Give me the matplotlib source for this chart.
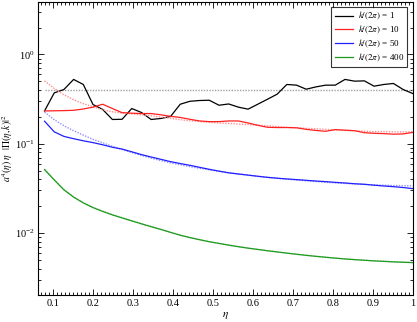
"""
a^4(eta) eta |Pi(eta,k)|^2 versus eta for four wavenumbers, with fits (dotted).
Writes out.png (417x322).
"""

import matplotlib
matplotlib.use("Agg")
import matplotlib.pyplot as plt
import numpy as np
from matplotlib.ticker import MultipleLocator, LogLocator, NullFormatter

plt.rcParams["font.family"] = ["Liberation Serif", "DejaVu Serif"]
plt.rcParams["mathtext.fontset"] = "stix"

# eta grid (39 samples)
eta = np.linspace(0.078, 1.0, 39)

k1 = [0.233, 0.371, 0.405, 0.525, 0.461, 0.275, 0.242, 0.187, 0.188, 0.248,
      0.224, 0.187, 0.192, 0.202, 0.277, 0.299, 0.305, 0.307, 0.270, 0.279,
      0.257, 0.244, 0.277, 0.315, 0.359, 0.461, 0.453, 0.408, 0.433, 0.453,
      0.453, 0.525, 0.502, 0.506, 0.441, 0.461, 0.473, 0.405, 0.365]
k1_fit = [0.40] * 39

k10 = [0.233, 0.234, 0.235, 0.237, 0.245, 0.257, 0.277, 0.248, 0.223, 0.220,
       0.218, 0.218, 0.211, 0.203, 0.197, 0.188, 0.180, 0.177, 0.177, 0.180,
       0.180, 0.171, 0.161, 0.153, 0.152, 0.152, 0.151, 0.145, 0.141, 0.138,
       0.144, 0.142, 0.140, 0.133, 0.131, 0.130, 0.128, 0.129, 0.134]
k10_fit = [0.506, 0.416, 0.354, 0.311, 0.281, 0.260, 0.240, 0.228, 0.221, 0.216,
           0.211, 0.206, 0.199, 0.193, 0.186, 0.181, 0.177, 0.174, 0.171, 0.169,
           0.166, 0.164, 0.161, 0.159, 0.156, 0.153, 0.151, 0.149, 0.147, 0.145,
           0.143, 0.141, 0.140, 0.138, 0.137, 0.137, 0.136, 0.136, 0.136]

k50 = [0.179, 0.136, 0.121, 0.114, 0.108, 0.103, 0.0975, 0.0914, 0.0873, 0.0813,
       0.0757, 0.0711, 0.0670, 0.0631, 0.0601, 0.0574, 0.0545, 0.0518, 0.0494, 0.0473,
       0.0459, 0.0446, 0.0433, 0.0421, 0.0412, 0.0404, 0.0397, 0.0390, 0.0383, 0.0377,
       0.0370, 0.0364, 0.0357, 0.0352, 0.0344, 0.0337, 0.0331, 0.0324, 0.0315]
k50_fit = [0.227, 0.186, 0.159, 0.140, 0.125, 0.112, 0.1026, 0.0938, 0.0861, 0.0797,
           0.0740, 0.0691, 0.0648, 0.0612, 0.0582, 0.0555, 0.0531, 0.0511, 0.0492, 0.0474,
           0.0459, 0.0445, 0.0432, 0.0421, 0.0410, 0.0401, 0.0393, 0.0385, 0.0378, 0.0371,
           0.0365, 0.0360, 0.0355, 0.0351, 0.0347, 0.0344, 0.0341, 0.0340, 0.0338]

k400 = [0.0514, 0.0394, 0.0305, 0.0253, 0.0218, 0.0193, 0.0175, 0.0160, 0.0148, 0.0137,
        0.0127, 0.0118, 0.0110, 0.0102, 0.00947, 0.00891, 0.00844, 0.00801, 0.00767, 0.00734,
        0.00705, 0.00679, 0.00657, 0.00635, 0.00616, 0.00597, 0.00580, 0.00564, 0.00550, 0.00537,
        0.00525, 0.00514, 0.00505, 0.00497, 0.00489, 0.00483, 0.00477, 0.00472, 0.00468]
k400_fit = [0.0520, 0.0397, 0.0308, 0.0255, 0.0219, 0.0194, 0.0176, 0.0161, 0.0149, 0.0138,
            0.0128, 0.0119, 0.0110, 0.0102, 0.00950, 0.00893, 0.00846, 0.00803, 0.00768, 0.00735,
            0.00706, 0.00680, 0.00657, 0.00636, 0.00617, 0.00598, 0.00581, 0.00565, 0.00551, 0.00538,
            0.00526, 0.00515, 0.00506, 0.00498, 0.00490, 0.00484, 0.00478, 0.00473, 0.00469]

labels = [r"$k/(2\pi)$ = 1", r"$k/(2\pi)$ = 10", r"$k/(2\pi)$ = 50", r"$k/(2\pi)$ = 400"]
colors = ["black", "#ff2020", "#2020ff", "#1f9a1f"]
fit_colors = ["#a0a0a0", "#ff9090", "#9090ff", "#90d090"]

fig = plt.figure(figsize=(4.17, 3.22), dpi=100)
ax = fig.add_axes([0.091, 0.085, 0.899, 0.91])

for y, yf, lab, c, cf in zip([k1, k10, k50, k400], [k1_fit, k10_fit, k50_fit, k400_fit],
                             labels, colors, fit_colors):
    ax.plot(eta, yf, color=cf, lw=1.0, ls=(0, (1, 1)))
    ax.plot(eta, y, color=c, lw=0.9, label=lab)

ax.set_yscale("log")
ax.set_xlim(0.0615, 1.0)
ax.set_ylim(2.05e-3, 3.9)

ax.xaxis.set_minor_locator(MultipleLocator(0.01))
ax.set_xticks(np.arange(0.1, 1.01, 0.1))
ax.set_xticklabels(["0.1", "0.2", "0.3", "0.4", "0.5", "0.6", "0.7", "0.8", "0.9", "1"])
ax.yaxis.set_minor_locator(LogLocator(base=10, subs=np.arange(2, 10)))
ax.yaxis.set_minor_formatter(NullFormatter())

ax.tick_params(which="both", direction="in", top=True, right=True, labelsize=7.5, width=0.6)
ax.tick_params(which="major", length=4.5)
ax.tick_params(which="minor", length=2.5)
ax.tick_params(axis="y", pad=2.5)
for s in ax.spines.values():
    s.set_linewidth(0.8)

ax.set_xlabel(r"$\eta$", fontsize=8, labelpad=1)
ax.set_ylabel(r"$a^4(\eta)\ \eta\ \ |\Pi(\eta,k)|^2$", fontsize=7)
ax.yaxis.set_label_coords(-0.060, 0.5)

leg = ax.legend(loc="upper right", fontsize=6.5, frameon=True, fancybox=False,
                edgecolor="black", handlelength=2.0, borderaxespad=0.6,
                labelspacing=0.2, borderpad=0.35, handletextpad=0.6)
leg.get_frame().set_linewidth(0.8)

fig.savefig("out.png", dpi=100)
